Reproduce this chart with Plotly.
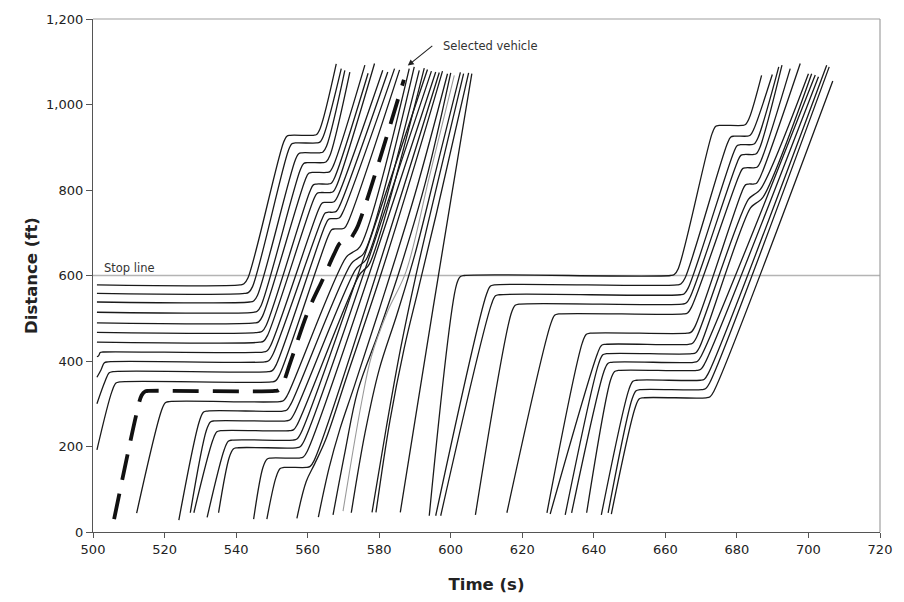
import plotly.graph_objects as go

# ---------------------------------------------------------------
# Cycle 1 queue: vehicles held at (or joining) the queue before the
# green at ~541 s.  Distances in ft, times in s.
# ---------------------------------------------------------------
A_QUEUE_D = [578, 558, 538, 514, 489, 467, 444, 421, 398, 375, 351,
             305, 283, 260, 237, 215, 197, 173, 151]
A_ENTRY_T = [501.1, 501.1, 501.1, 501.1, 501.1, 501.1, 501.1, 501.1, 501.1, 501.1, 501.1,
             512.2, 524.0, 527.2, 528.2, 531.9, 535.1, 544.9, 548.6]
A_ENTRY_D = [578, 558, 538, 514, 489, 467, 444, 410, 362, 300, 192,
             44, 28, 45, 45, 34, 45, 30, 30]
A_STOP_T = [501.1, 501.1, 501.1, 501.1, 501.1, 501.1, 501.1, 502.2, 503.6, 505.0, 506.9,
            520.7, 531.4, 533.3, 535.1, 538.3, 539.7, 549.1, 552.8]
A_GO_T = [541.7, 543.0, 544.4, 545.4, 545.8, 546.8, 547.2, 548.1, 548.6, 549.6, 550.5,
          552.8, 553.7, 554.6, 555.6, 556.5, 557.4, 558.3, 560.2]
# second slow-down downstream of the stop line
A_SLOW_D = [928, 910, 887, 864, 841, 814, 794, 771, 748, 733, 709,
            655, 640, 626, 614, None, None, None, None]
A_SLOW_T1 = [554.6, 556.0, 557.9, 559.3, 560.7, 562.0, 563.0, 564.4, 565.3, 566.2, 567.1,
             571.8, 573.2, 574.4, 575.5, None, None, None, None]
A_SLOW_T2 = [562.1, 563.0, 563.9, 564.8, 565.8, 566.2, 566.7, 567.1, 567.6, 568.5, 569.9,
             573.6, 574.7, 575.4, 576.2, None, None, None, None]
A_END_T = [568.0, 569.4, 570.4, 571.8, 576.0, 576.9, 578.7, 581.0, 582.4, 584.3, 585.7,
           588.4, 589.8, 591.2, 592.6, 593.5, 594.6, 595.8, 596.8]
A_END_D = [1095, 1084, 1080, 1076, 1092, 1073, 1096, 1080, 1076, 1084, 1081,
           1084, 1088, 1080, 1085, 1082, 1078, 1076, 1075]

# Selected vehicle (dashed)
SEL_T = [505.9, 512.4, 513.6, 514.6, 515.5, 550.9, 551.9, 553.0, 555.1, 560.2, 564.4,
         567.4, 569.0, 569.9, 570.9, 571.7, 572.9, 574.1, 586.9]
SEL_D = [30, 285, 320, 329, 330, 330, 332, 345, 395, 518, 594,
         650, 675, 679, 679, 682, 698, 717, 1058]

# Vehicles arriving on green that do not stop
B_T = [
    [557.0, 559.6, 562.0, 565.0, 571.0, 580.0, 590.0, 597.7],
    [563.0, 566.0, 569.0, 573.0, 580.0, 590.0, 599.1],
    [567.1, 570.5, 574.0, 580.0, 586.0, 593.0, 600.0],
    [569.9, 575.0, 577.8, 582.4, 587.5, 594.0, 601.0],
    [572.2, 576.0, 580.0, 585.0, 590.0, 596.0, 602.7],
    [578.0, 582.0, 586.0, 590.0, 595.0, 603.6],
    [579.1, 583.0, 587.0, 591.0, 596.0, 605.0],
    [585.9, 590.0, 595.0, 600.0, 605.9],
]
B_D = [
    [32, 118, 160, 215, 365, 590, 860, 1078],
    [35, 150, 240, 340, 520, 790, 1072],
    [40, 190, 330, 470, 620, 820, 1074],
    [49, 300, 410, 517, 609, 830, 1068],
    [45, 230, 380, 510, 650, 850, 1075],
    [46, 245, 430, 590, 770, 1072],
    [46, 260, 430, 570, 745, 1074],
    [46, 260, 520, 775, 1072],
]
B_GREY = 3  # index of the vehicle drawn in grey

# Cycle 2 queue
C_ENTRY_T = [594.0, 595.8, 597.2, 606.9, 615.7, 626.9, 627.8, 632.0, 633.8, 638.0, 642.1, 644.0, 644.9]
C_ENTRY_D = [38, 38, 38, 40, 45, 45, 42, 40, 45, 45, 40, 45, 42]
C_QUEUE_D = [600, 578, 555, 533, 510, 465, 439, 417, 397, 378, 355, 333, 314]
C_STOP_T = [603.2, 611.6, 613.0, 618.5, 629.6, 638.4, 642.6, 643.0, 644.4, 646.3, 651.4, 652.3, 653.2]
C_GO_T = [662.0, 663.9, 664.8, 665.3, 665.7, 666.7, 667.1, 668.0, 668.5, 669.4, 670.4, 670.8, 672.0]
C_SLOW_D = [951, 926, 906, 883, 852, 814, 790, 770, None, None, None, None, None]
C_SLOW_T1 = [674.5, 678.7, 680.5, 681.5, 682.0, 682.8, 684.2, 684.8, None, None, None, None, None]
C_SLOW_T2 = [682.0, 683.3, 684.5, 685.0, 685.3, 685.1, 685.6, 686.2, None, None, None, None, None]
C_END_T = [686.9, 689.9, 691.7, 692.6, 694.9, 697.7, 700.0, 700.9, 701.9, 702.8, 705.1, 705.8, 706.8]
C_END_D = [1068, 1070, 1088, 1092, 1084, 1096, 1072, 1072, 1069, 1065, 1092, 1088, 1055]

STOP_LINE = 600


def queue_knots(t_in, d_in, dq, ts, tg):
    """Approach, standstill in the queue and start-up of one vehicle."""
    pts = []
    if ts - t_in > 0.05:
        pts.append((t_in, d_in))
        c = min(1.6, 0.55 * (ts - t_in))
        pts.append((ts - c, dq - 13.75 * c))
        pts.append((ts - 0.3 * c, dq - 1.6 * c))
        pts.append((ts + 0.6, dq))
    else:
        pts.append((t_in, dq))
    pts.append((tg - 0.6, dq))
    pts.append((tg + 0.5, dq + 2.5))
    pts.append((tg + 1.6, dq + 16))
    return pts


def slow_knots(d, t1, t2):
    """Downstream slow-down (short stop or brief hesitation)."""
    if d is None:
        return []
    if t2 - t1 >= 2:
        return [(t1 - 1.4, d - 18), (t1 - 0.4, d - 2), (t1 + 0.5, d),
                (t2 - 0.5, d), (t2 + 0.4, d + 2), (t2 + 1.4, d + 16)]
    m = (t1 + t2) / 2
    return [(t1 - 1.0, d - 12), (m, d), (t2 + 1.0, d + 12)]


LINE = dict(color="#1a1a1a", width=1.3, shape="spline", smoothing=1.0)

fig = go.Figure()

# stop line
fig.add_trace(go.Scatter(x=[500, 720], y=[STOP_LINE, STOP_LINE], mode="lines",
                         line=dict(color="#b4b4b4", width=1.6), hoverinfo="skip",
                         showlegend=False))

def add_path(pts, line):
    fig.add_trace(go.Scatter(x=[p[0] for p in pts], y=[p[1] for p in pts],
                             mode="lines", line=line, hoverinfo="skip",
                             showlegend=False))

for i in range(len(A_QUEUE_D)):
    pts = queue_knots(A_ENTRY_T[i], A_ENTRY_D[i], A_QUEUE_D[i], A_STOP_T[i], A_GO_T[i])
    pts += slow_knots(A_SLOW_D[i], A_SLOW_T1[i], A_SLOW_T2[i])
    pts.append((A_END_T[i], A_END_D[i]))
    add_path(pts, LINE)

for i in range(len(C_QUEUE_D)):
    pts = queue_knots(C_ENTRY_T[i], C_ENTRY_D[i], C_QUEUE_D[i], C_STOP_T[i], C_GO_T[i])
    pts += slow_knots(C_SLOW_D[i], C_SLOW_T1[i], C_SLOW_T2[i])
    pts.append((C_END_T[i], C_END_D[i]))
    add_path(pts, LINE)

for i in range(len(B_T)):
    ln = dict(LINE)
    if i == B_GREY:
        ln = dict(color="#9a9a9a", width=1.1, shape="spline", smoothing=1.0)
    add_path(list(zip(B_T[i], B_D[i])), ln)

# selected vehicle
add_path(list(zip(SEL_T, SEL_D)),
         dict(color="#111111", width=3.8, dash="26px,14px", shape="spline", smoothing=1.0))

FONT = "DejaVu Sans"

fig.add_annotation(x=502.4, y=STOP_LINE, xref="x", yref="y", text="Stop line",
                   showarrow=False, xanchor="left", yanchor="bottom",
                   font=dict(family=FONT, size=11.5, color="#333333"), yshift=-1)
fig.add_annotation(x=588.0, y=1091, xref="x", yref="y", ax=26, ay=-21,
                   text="", showarrow=True, arrowhead=2, arrowsize=1.1,
                   arrowwidth=1.1, arrowcolor="#222222")
fig.add_annotation(x=597.4, y=1137, xref="x", yref="y", text="Selected vehicle",
                   showarrow=False, xanchor="left", yanchor="middle",
                   font=dict(family=FONT, size=11.5, color="#333333"))

# top and right frame
fig.add_shape(type="line", xref="paper", yref="paper", x0=0, x1=1, y0=1, y1=1,
              line=dict(color="#a0a0a0", width=1.2))
fig.add_shape(type="line", xref="paper", yref="paper", x0=1, x1=1, y0=0, y1=1,
              line=dict(color="#a0a0a0", width=1.2))

fig.update_layout(
    width=904, height=602,
    margin=dict(l=93, r=19, t=15, b=69),
    paper_bgcolor="white", plot_bgcolor="white",
    font=dict(family=FONT, size=13, color="#222222"),
    xaxis=dict(range=[500, 720], tick0=500, dtick=20, showgrid=False, zeroline=False,
               showline=True, linecolor="#555555", linewidth=1.3,
               ticks="outside", ticklen=5, tickcolor="#555555",
               tickfont=dict(family=FONT, size=13, color="#222222"),
               title=dict(text="<b>Time (s)</b>", standoff=22,
                          font=dict(family=FONT, size=16.5, color="#222222"))),
    yaxis=dict(range=[0, 1200], tick0=0, dtick=200, tickformat=",d", showgrid=False,
               zeroline=False, showline=True, linecolor="#555555", linewidth=1.3,
               ticks="outside", ticklen=6, tickcolor="#555555",
               tickfont=dict(family=FONT, size=13, color="#222222"),
               title=dict(text="<b>Distance (ft)</b>", standoff=4,
                          font=dict(family=FONT, size=16.5, color="#222222"))),
)

fig.write_html("out.html")
